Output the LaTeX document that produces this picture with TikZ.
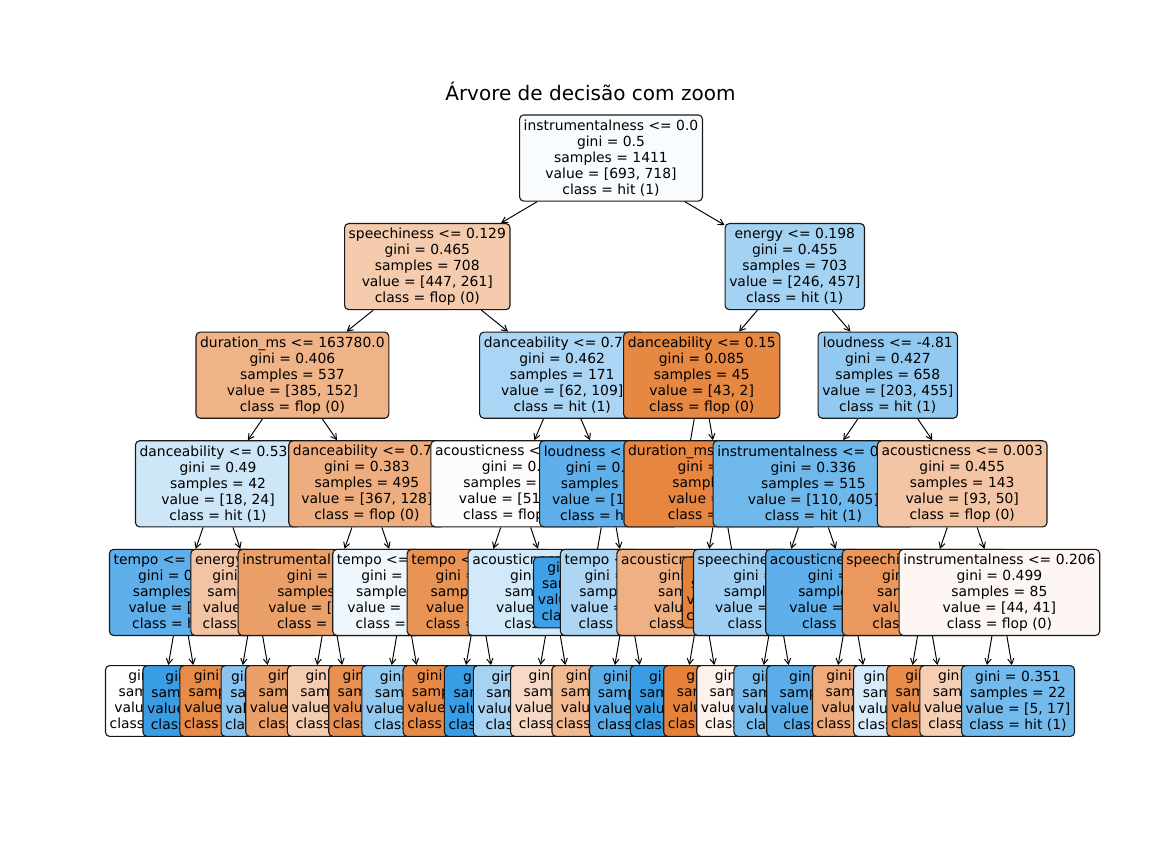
\documentclass[tikz,border=0pt]{standalone}
\usepackage{fontspec}
\setmainfont{DejaVu Sans}
\usetikzlibrary{arrows.meta}

\definecolor{flop}{RGB}{229,129,57}
\definecolor{hit}{RGB}{57,157,229}
\newcommand{\arbol}{\fontsize{10}{11.52}\selectfont}
\newcommand{\datos}[4]{gini = #1\\samples = #2\\value = [#3]\\class = #4}

\tikzset{
  nodo/.style={draw=black!90, line width=0.8pt, rounded corners=3pt, align=center,
    inner xsep=3pt, inner ysep=0pt, minimum height=62pt, font=\arbol},
  hoja/.style={nodo, minimum height=51pt},
  flecha/.style={-{Straight Barb[length=4pt,width=4.5pt]}, line width=0.7pt}
}

\begin{document}
\begin{tikzpicture}[x=0.72pt, y=-0.72pt]
    \useasboundingbox (0,0) rectangle (1152,864);

    % Titulo
    \node[anchor=base, font=\fontsize{14.4}{17}\selectfont] (titulo) at (590.4,100) {Árvore de decisão com zoom};

    % Raiz
    \node[nodo, fill=hit!3.5] (t) at (611.0,158) {instrumentalness <= 0.0\\\datos{0.5}{1411}{693, 718}{hit (1)}};

    % Rama izquierda
    \node[nodo, fill=flop!41.6] (tl) at (427.3,266.6) {speechiness <= 0.129\\\datos{0.465}{708}{447, 261}{flop (0)}};
    \draw[flecha] (t) -- (tl);
    \node[nodo, fill=flop!60.5] (tll) at (292.4,375.2) {duration\_ms <= 163780.0\\\datos{0.406}{537}{385, 152}{flop (0)}};
    \draw[flecha] (tl) -- (tll);
    \node[nodo, fill=hit!25] (tlll) at (218.0,483.8) {danceability <= 0.535\\\datos{0.49}{42}{18, 24}{hit (1)}};
    \draw[flecha] (tll) -- (tlll);
    \node[nodo, fill=hit!81.3] (tllll) at (180.8,592.4) {tempo <= 121.479\\\datos{0.266}{19}{3, 16}{hit (1)}};
    \draw[flecha] (tlll) -- (tllll);
    \node[hoja, fill=white] (tlllll) at (162.2,701) {\datos{0.5}{6}{3, 3}{flop (0)}};
    \draw[flecha] (tllll) -- (tlllll);
    \node[hoja, fill=hit] (tllllr) at (199.4,701) {\datos{0.0}{13}{0, 13}{hit (1)}};
    \draw[flecha] (tllll) -- (tllllr);
    \node[nodo, fill=flop!46.7] (tlllr) at (255.2,592.4) {energy <= 0.784\\\datos{0.454}{23}{15, 8}{flop (0)}};
    \draw[flecha] (tlll) -- (tlllr);
    \node[hoja, fill=flop!92.3] (tlllrl) at (236.6,701) {\datos{0.133}{14}{13, 1}{flop (0)}};
    \draw[flecha] (tlllr) -- (tlllrl);
    \node[hoja, fill=hit!60] (tlllrr) at (273.8,701) {\datos{0.346}{9}{2, 7}{hit (1)}};
    \draw[flecha] (tlllr) -- (tlllrr);
    \node[nodo, fill=flop!65.1] (tllr) at (366.9,483.8) {danceability <= 0.74\\\datos{0.383}{495}{367, 128}{flop (0)}};
    \draw[flecha] (tll) -- (tllr);
    \node[nodo, fill=flop!75.7] (tllrl) at (329.6,592.4) {instrumentalness <= 0.0\\\datos{0.315}{399}{321, 78}{flop (0)}};
    \draw[flecha] (tllr) -- (tllrl);
    \node[hoja, fill=flop!76] (tllrll) at (311.0,701) {\datos{0.275}{340}{284, 56}{flop (0)}};
    \draw[flecha] (tllrl) -- (tllrll);
    \node[hoja, fill=flop!40.5] (tllrlr) at (348.3,701) {\datos{0.468}{59}{37, 22}{flop (0)}};
    \draw[flecha] (tllrl) -- (tllrlr);
    \node[nodo, fill=hit!8] (tllrr) at (404.1,592.4) {tempo <= 118.017\\\datos{0.499}{96}{46, 50}{hit (1)}};
    \draw[flecha] (tllr) -- (tllrr);
    \node[hoja, fill=flop!88] (tllrrl) at (385.5,701) {\datos{0.191}{28}{25, 3}{flop (0)}};
    \draw[flecha] (tllrr) -- (tllrrl);
    \node[hoja, fill=hit!55.3] (tllrrr) at (422.7,701) {\datos{0.427}{68}{21, 47}{hit (1)}};
    \draw[flecha] (tllrr) -- (tllrrr);
    \node[nodo, fill=hit!43.1] (tlr) at (562.2,375.2) {danceability <= 0.718\\\datos{0.462}{171}{62, 109}{hit (1)}};
    \draw[flecha] (tl) -- (tlr);
    \node[nodo, fill=flop!2] (tlrl) at (515.7,483.8) {acousticness <= 0.075\\\datos{0.5}{101}{51, 50}{flop (0)}};
    \draw[flecha] (tlr) -- (tlrl);
    \node[nodo, fill=flop!85.7] (tlrll) at (478.5,592.4) {tempo <= 170.012\\\datos{0.219}{16}{14, 2}{flop (0)}};
    \draw[flecha] (tlrl) -- (tlrll);
    \node[hoja, fill=flop!92.9] (tlrlll) at (459.9,701) {\datos{0.124}{15}{14, 1}{flop (0)}};
    \draw[flecha] (tlrll) -- (tlrlll);
    \node[hoja, fill=hit] (tlrllr) at (497.1,701) {\datos{0.0}{1}{0, 1}{hit (1)}};
    \draw[flecha] (tlrll) -- (tlrllr);
    \node[nodo, fill=hit!22.9] (tlrlr) at (552.9,592.4) {acousticness <= 0.234\\\datos{0.492}{85}{37, 48}{hit (1)}};
    \draw[flecha] (tlrl) -- (tlrlr);
    \node[hoja, fill=hit!44.4] (tlrlrl) at (534.3,701) {\datos{0.459}{56}{20, 36}{hit (1)}};
    \draw[flecha] (tlrlr) -- (tlrlrl);
    \node[hoja, fill=flop!29.4] (tlrlrr) at (571.5,701) {\datos{0.485}{29}{17, 12}{flop (0)}};
    \draw[flecha] (tlrlr) -- (tlrlrr);
    \node[nodo, fill=hit!81.4] (tlrr) at (608.7,483.8) {loudness <= -7.52\\\datos{0.265}{70}{11, 59}{hit (1)}};
    \draw[flecha] (tlr) -- (tlrr);
    \node[hoja, fill=hit!97.4] (tlrrl) at (590.1,592.4) {\datos{0.049}{40}{1, 39}{hit (1)}};
    \draw[flecha] (tlrr) -- (tlrrl);
    \node[nodo, fill=hit!42] (tlrrr) at (627.3,592.4) {tempo <= 94.528\\\datos{0.444}{30}{10, 20}{hit (1)}};
    \draw[flecha] (tlrr) -- (tlrrr);
    \node[hoja, fill=flop!55] (tlrrrl) at (608.7,701) {\datos{0.444}{12}{8, 4}{flop (0)}};
    \draw[flecha] (tlrrr) -- (tlrrrl);
    \node[hoja, fill=hit!84] (tlrrrr) at (645.9,701) {\datos{0.198}{18}{2, 16}{hit (1)}};
    \draw[flecha] (tlrrr) -- (tlrrrr);

    % Rama derecha
    \node[nodo, fill=hit!46.2] (tr) at (794.8,266.6) {energy <= 0.198\\\datos{0.455}{703}{246, 457}{hit (1)}};
    \draw[flecha] (t) -- (tr);
    \node[nodo, fill=flop!95.3] (trl) at (701.7,375.2) {danceability <= 0.15\\\datos{0.085}{45}{43, 2}{flop (0)}};
    \draw[flecha] (tr) -- (trl);
    \node[hoja, fill=flop] (trll) at (683.1,483.8) {\datos{0.0}{15}{15, 0}{flop (0)}};
    \draw[flecha] (trl) -- (trll);
    \node[nodo, fill=flop!96] (trlr) at (720.4,483.8) {duration\_ms <= 196213.5\\\datos{0.124}{30}{28, 2}{flop (0)}};
    \draw[flecha] (trl) -- (trlr);
    \node[nodo, fill=flop!62] (trlrl) at (701.7,592.4) {acousticness <= 0.681\\\datos{0.408}{7}{5, 2}{flop (0)}};
    \draw[flecha] (trlr) -- (trlrl);
    \node[hoja, fill=hit] (trlrll) at (683.1,701) {\datos{0.0}{2}{0, 2}{hit (1)}};
    \draw[flecha] (trlrl) -- (trlrll);
    \node[hoja, fill=flop] (trlrlr) at (720.4,701) {\datos{0.0}{5}{5, 0}{flop (0)}};
    \draw[flecha] (trlrl) -- (trlrlr);
    \node[hoja, fill=flop] (trlrr) at (739.0,592.4) {\datos{0.0}{23}{23, 0}{flop (0)}};
    \draw[flecha] (trlr) -- (trlrr);
    \node[nodo, fill=hit!55.4] (trr) at (887.8,375.2) {loudness <= -4.81\\\datos{0.427}{658}{203, 455}{hit (1)}};
    \draw[flecha] (tr) -- (trr);
    \node[nodo, fill=hit!72.8] (trrl) at (813.4,483.8) {instrumentalness <= 0.112\\\datos{0.336}{515}{110, 405}{hit (1)}};
    \draw[flecha] (trr) -- (trrl);
    \node[nodo, fill=hit!49.1] (trrll) at (776.2,592.4) {speechiness <= 0.052\\\datos{0.447}{160}{54, 106}{hit (1)}};
    \draw[flecha] (trrl) -- (trrll);
    \node[hoja, fill=flop!10] (trrlll) at (757.6,701) {\datos{0.499}{38}{20, 18}{flop (0)}};
    \draw[flecha] (trrll) -- (trrlll);
    \node[hoja, fill=hit!68] (trrllr) at (794.8,701) {\datos{0.402}{122}{34, 88}{hit (1)}};
    \draw[flecha] (trrll) -- (trrllr);
    \node[nodo, fill=hit!81.3] (trrlr) at (850.6,592.4) {acousticness <= 0.163\\\datos{0.266}{355}{56, 299}{hit (1)}};
    \draw[flecha] (trrl) -- (trrlr);
    \node[hoja, fill=hit!83.2] (trrlrl) at (832.0,701) {\datos{0.247}{347}{50, 297}{hit (1)}};
    \draw[flecha] (trrlr) -- (trrlrl);
    \node[hoja, fill=flop!66.7] (trrlrr) at (869.2,701) {\datos{0.375}{8}{6, 2}{flop (0)}};
    \draw[flecha] (trrlr) -- (trrlrr);
    \node[nodo, fill=flop!46.2] (trrr) at (962.2,483.8) {acousticness <= 0.003\\\datos{0.455}{143}{93, 50}{flop (0)}};
    \draw[flecha] (trr) -- (trrr);
    \node[nodo, fill=flop!81.6] (trrrl) at (925.0,592.4) {speechiness <= 0.239\\\datos{0.262}{58}{49, 9}{flop (0)}};
    \draw[flecha] (trrr) -- (trrrl);
    \node[hoja, fill=hit!20] (trrrll) at (906.4,701) {\datos{0.494}{9}{4, 5}{hit (1)}};
    \draw[flecha] (trrrl) -- (trrrll);
    \node[hoja, fill=flop!91.1] (trrrlr) at (943.6,701) {\datos{0.15}{49}{45, 4}{flop (0)}};
    \draw[flecha] (trrrl) -- (trrrlr);
    \node[nodo, fill=flop!6.8] (trrrr) at (999.4,592.4) {instrumentalness <= 0.206\\\datos{0.499}{85}{44, 41}{flop (0)}};
    \draw[flecha] (trrr) -- (trrrr);
    \node[hoja, fill=flop!38.5] (trrrrl) at (980.8,701) {\datos{0.472}{63}{39, 24}{flop (0)}};
    \draw[flecha] (trrrr) -- (trrrrl);
    \node[hoja, fill=hit!70.6] (trrrrr) at (1018.0,701) {\datos{0.351}{22}{5, 17}{hit (1)}};
    \draw[flecha] (trrrr) -- (trrrrr);
\end{tikzpicture}
\end{document}
